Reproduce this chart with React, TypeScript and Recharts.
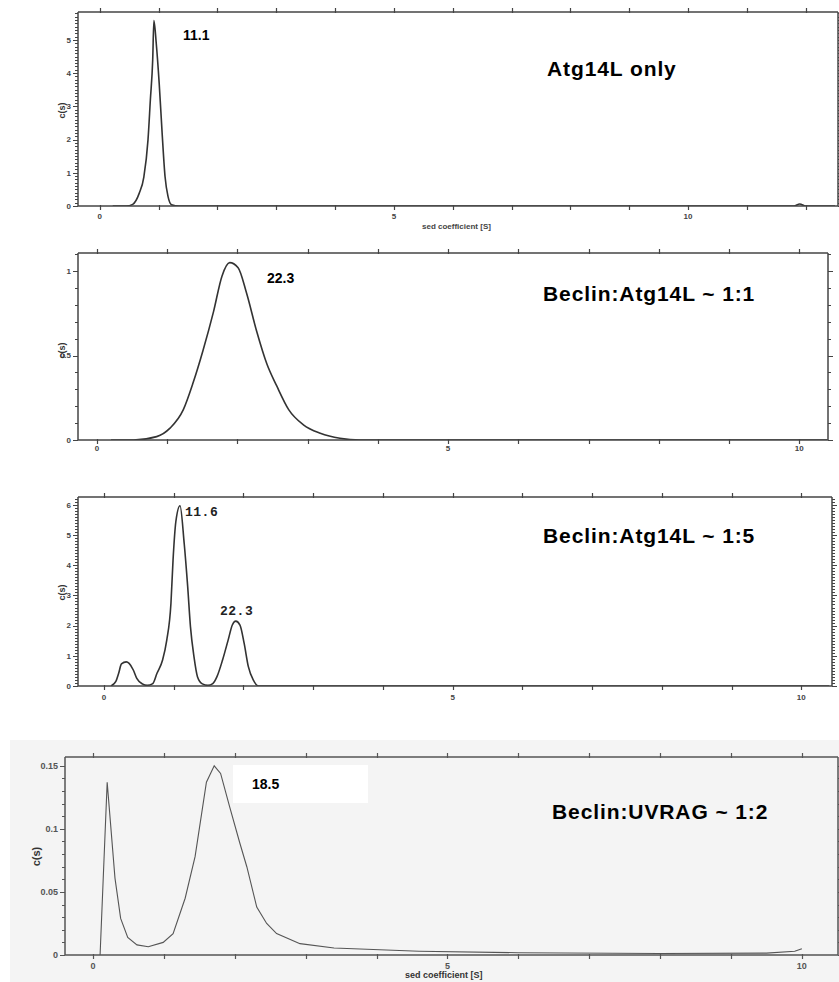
import { LineChart, Line, XAxis, YAxis } from 'recharts'

// Atg14L only
const p1S = [0.22, 0.45, 0.56, 0.67, 0.75, 0.82, 0.86, 0.9, 0.92, 0.96, 1.01, 1.06, 1.11, 1.16, 1.22, 1.35, 3, 6, 9, 11.8, 11.9, 12.0, 12.5]
const p1C = [0, 0, 0.05, 0.38, 0.88, 1.99, 3.19, 4.4, 5.58, 4.9, 3.7, 2.2, 0.88, 0.29, 0.04, 0, 0, 0, 0, 0, 0.06, 0, 0]

// Beclin:Atg14L ~ 1:1
const p2S = [0.2, 0.52, 0.85, 1.04, 1.23, 1.37, 1.51, 1.66, 1.78, 1.89, 2.01, 2.13, 2.27, 2.42, 2.56, 2.73, 2.94, 3.18, 3.46, 3.75, 5, 7.5, 10.4]
const p2C = [0, 0, 0.02, 0.07, 0.18, 0.34, 0.53, 0.76, 0.97, 1.05, 1.02, 0.87, 0.65, 0.45, 0.32, 0.18, 0.09, 0.04, 0.01, 0, 0, 0, 0]

// Beclin:Atg14L ~ 1:5
const p3S = [0.1, 0.17, 0.21, 0.25, 0.32, 0.36, 0.42, 0.47, 0.55, 0.62, 0.7, 0.76, 0.84, 0.9, 0.96, 0.99, 1.03, 1.09, 1.15, 1.2, 1.24, 1.29, 1.34, 1.41, 1.49, 1.56, 1.62, 1.7, 1.78, 1.84, 1.89, 1.95, 2.01, 2.07, 2.14, 2.22, 3, 6, 10.4]
const p3C = [0, 0.15, 0.42, 0.73, 0.8, 0.75, 0.53, 0.25, 0.07, 0.02, 0.08, 0.42, 0.86, 1.52, 2.74, 4.17, 5.44, 5.97, 4.72, 3.29, 1.96, 0.97, 0.31, 0.07, 0.02, 0.08, 0.31, 0.86, 1.52, 2.02, 2.15, 2.02, 1.41, 0.64, 0.2, 0, 0, 0, 0]

// Beclin:UVRAG ~ 1:2
const p4S = [0.1, 0.2, 0.31, 0.39, 0.49, 0.62, 0.78, 0.99, 1.13, 1.3, 1.44, 1.6, 1.71, 1.8, 1.93, 2.07, 2.17, 2.31, 2.45, 2.59, 2.92, 3.4, 4.6, 6, 8, 9.5, 9.9, 10]
const p4C = [0, 0.137, 0.061, 0.029, 0.014, 0.008, 0.0065, 0.01, 0.017, 0.045, 0.078, 0.137, 0.15, 0.144, 0.117, 0.089, 0.07, 0.038, 0.025, 0.017, 0.009, 0.0055, 0.003, 0.0018, 0.0012, 0.0015, 0.003, 0.005]

const xLabels = [0, 5, 10]
const p1YLabels = [0, 1, 2, 3, 4, 5]
const p2YLabels = [0, 0.5, 1]
const p3YLabels = [0, 1, 2, 3, 4, 5, 6]
const p4YLabels = [0, 0.05, 0.1, 0.15]

const range = (from: number, to: number, step: number) => {
  const out: number[] = []
  for (let i = 0; from + i * step <= to + 1e-9; i++) out.push(Math.round((from + i * step) * 1000) / 1000)
  return out
}

const toRows = (s: number[], c: number[]) => s.map((v, i) => ({ s: v, c: c[i] }))

const FONT = '"Liberation Sans", Arial, sans-serif'
const has = (arr: number[], v: number) => arr.some((a) => Math.abs(a - v) < 1e-6)

function makeXTick(side: 'top' | 'bottom', labels: number[], gap: number, size: number, color: string) {
  return (props: any) => {
    const { x, y, payload } = props
    const up = side === 'top'
    const show = !up && has(labels, payload.value)
    const xx = Math.round(x) + 0.5
    return (
      <g>
        <line x1={xx} x2={xx} y1={up ? y + 1 : y - 1} y2={up ? y - 4 : y + 4} stroke={color} strokeWidth={1.2} />
        {show && (
          <text x={x} y={y + gap} textAnchor="middle" fontSize={size} fontWeight="bold" fill={color} fontFamily={FONT}>
            {payload.value}
          </text>
        )}
      </g>
    )
  }
}

function makeYTick(side: 'left' | 'right', labels: number[], size: number, color: string) {
  return (props: any) => {
    const { x, y, payload } = props
    const major = has(labels, payload.value)
    const len = major ? 5 : 3
    const dir = side === 'left' ? -1 : 1
    const yy = Math.round(y) + 0.5
    return (
      <g>
        <line x1={x} x2={x + dir * len} y1={yy} y2={yy} stroke={color} strokeWidth={1} />
        {side === 'left' && major && (
          <text x={x - 7} y={y + size * 0.35} textAnchor="end" fontSize={size} fontWeight="bold" fill={color} fontFamily={FONT}>
            {payload.value}
          </text>
        )}
      </g>
    )
  }
}

interface PanelProps {
  box: { l: number; t: number; r: number; b: number }
  xDomain: [number, number]
  xTicks: number[]
  yDomain: [number, number]
  yTicks: number[]
  yLabels: number[]
  rows: { s: number; c: number }[]
  curve: 'monotone' | 'linear'
  stroke: string
  strokeWidth: number
  axisColor: string
  tickFont: number
  xGap: number
}

function Panel({ box, xDomain, xTicks, yDomain, yTicks, yLabels, rows, curve, stroke, strokeWidth, axisColor, tickFont, xGap }: PanelProps) {
  const H = box.b - box.t + 20 + 40
  const axisLine = { stroke: axisColor, strokeWidth: 1.5 }
  // the top and right axes are 1px thick so that they are drawn at all
  return (
    <div style={{ position: 'absolute', left: 0, top: box.t - 20, width: 845, height: H }}>
      <LineChart width={845} height={H} data={rows} margin={{ top: 19, right: 845 - box.r - 1, bottom: 0, left: box.l - 50 }}>
        <XAxis
          dataKey="s"
          type="number"
          domain={xDomain}
          ticks={xTicks}
          interval={0}
          allowDataOverflow
          height={40}
          tickSize={0}
          tickMargin={0}
          axisLine={axisLine}
          tickLine={false}
          tick={makeXTick('bottom', xLabels, xGap, tickFont, axisColor)}
        />
        <XAxis
          xAxisId="top"
          orientation="top"
          dataKey="s"
          type="number"
          domain={xDomain}
          ticks={xTicks}
          interval={0}
          allowDataOverflow
          height={1}
          tickSize={0}
          tickMargin={0}
          axisLine={axisLine}
          tickLine={false}
          tick={makeXTick('top', xLabels, xGap, tickFont, axisColor)}
        />
        <YAxis
          type="number"
          domain={yDomain}
          ticks={yTicks}
          interval={0}
          allowDataOverflow
          width={50}
          tickSize={0}
          tickMargin={0}
          axisLine={axisLine}
          tickLine={false}
          tick={makeYTick('left', yLabels, tickFont, axisColor)}
        />
        <YAxis
          yAxisId="right"
          orientation="right"
          type="number"
          domain={yDomain}
          ticks={yTicks}
          interval={0}
          allowDataOverflow
          width={1}
          tickSize={0}
          tickMargin={0}
          axisLine={axisLine}
          tickLine={false}
          tick={makeYTick('right', yLabels, tickFont, axisColor)}
        />
        <Line type={curve} dataKey="c" stroke={stroke} strokeWidth={strokeWidth} dot={false} isAnimationActive={false} />
        {/* hidden copy so the top and right frame axes get drawn */}
        <Line xAxisId="top" yAxisId="right" type={curve} dataKey="c" stroke="none" dot={false} activeDot={false} isAnimationActive={false} />
      </LineChart>
    </div>
  )
}

const tag = (left: number, top: number, text: string, size: number, extra: any = {}) => (
  <div
    style={{
      position: 'absolute',
      left,
      top,
      fontFamily: FONT,
      fontWeight: 'bold',
      fontSize: size,
      lineHeight: 1,
      whiteSpace: 'nowrap',
      color: '#000',
      ...extra,
    }}
  >
    {text}
  </div>
)

const yTitle = (cx: number, cy: number, size: number) => (
  <div
    style={{
      position: 'absolute',
      left: cx - 20,
      top: cy - size / 2,
      width: 40,
      textAlign: 'center',
      transform: 'rotate(-90deg)',
      fontFamily: FONT,
      fontWeight: 'bold',
      fontSize: size,
      lineHeight: 1,
      color: '#333',
    }}
  >
    c(s)
  </div>
)

export default function App() {
  const big = { letterSpacing: '0.9px' }
  const mono = { fontFamily: '"Liberation Mono", "Courier New", monospace', letterSpacing: '0.5px', color: '#222' }
  return (
    <div style={{ position: 'absolute', left: 0, top: 0, width: 839, height: 982, background: '#fff', overflow: 'hidden' }}>
      <div style={{ position: 'absolute', left: 10, top: 740, width: 829, height: 242, background: '#f4f4f4' }} />

      <Panel
        box={{ l: 78, t: 12, r: 838, b: 206 }}
        xDomain={[-0.37, 12.55]}
        xTicks={range(0, 12, 1)}
        yDomain={[0, 5.84]}
        yTicks={range(0, 5.8, 0.1)}
        yLabels={p1YLabels}
        rows={toRows(p1S, p1C)}
        curve="monotone"
        stroke="#333"
        strokeWidth={1.6}
        axisColor="#444"
        tickFont={8}
        xGap={13}
      />
      <Panel
        box={{ l: 78, t: 253, r: 828, b: 440 }}
        xDomain={[-0.27, 10.41]}
        xTicks={range(0, 10, 1)}
        yDomain={[0, 1.107]}
        yTicks={range(0, 1.1, 0.1)}
        yLabels={p2YLabels}
        rows={toRows(p2S, p2C)}
        curve="monotone"
        stroke="#333"
        strokeWidth={1.6}
        axisColor="#444"
        tickFont={8}
        xGap={11}
      />
      <Panel
        box={{ l: 78, t: 497, r: 832, b: 686 }}
        xDomain={[-0.373, 10.44]}
        xTicks={range(0, 10, 1)}
        yDomain={[0, 6.26]}
        yTicks={range(0, 6.2, 0.1)}
        yLabels={p3YLabels}
        rows={toRows(p3S, p3C)}
        curve="monotone"
        stroke="#333"
        strokeWidth={1.6}
        axisColor="#444"
        tickFont={8}
        xGap={14}
      />
      <Panel
        box={{ l: 65, t: 757, r: 838, b: 955 }}
        xDomain={[-0.395, 10.51]}
        xTicks={range(0, 10, 1)}
        yDomain={[0, 0.157]}
        yTicks={range(0, 0.15, 0.01)}
        yLabels={p4YLabels}
        rows={toRows(p4S, p4C)}
        curve="linear"
        stroke="#555"
        strokeWidth={1.1}
        axisColor="#555"
        tickFont={9}
        xGap={14}
      />

      {yTitle(62, 110, 9)}
      {yTitle(62, 350, 9)}
      {yTitle(62, 592, 9)}
      {yTitle(36, 856, 11)}

      {tag(422, 223, 'sed coefficient [S]', 8, { color: '#444' })}
      {tag(405, 971, 'sed coefficient [S]', 9, { color: '#333' })}

      {tag(183, 28, '11.1', 14)}
      {tag(547, 58, 'Atg14L only', 21, big)}

      {tag(267, 271, '22.3', 14)}
      {tag(543, 283, 'Beclin:Atg14L ~ 1:1', 21, big)}

      {tag(185, 506, '11.6', 13, mono)}
      {tag(220, 605, '22.3', 13, mono)}
      {tag(543, 525, 'Beclin:Atg14L ~ 1:5', 21, big)}

      <div style={{ position: 'absolute', left: 233, top: 765, width: 135, height: 38, background: '#fff' }} />
      {tag(252, 777, '18.5', 14)}
      {tag(552, 801, 'Beclin:UVRAG ~ 1:2', 21, big)}
    </div>
  )
}
